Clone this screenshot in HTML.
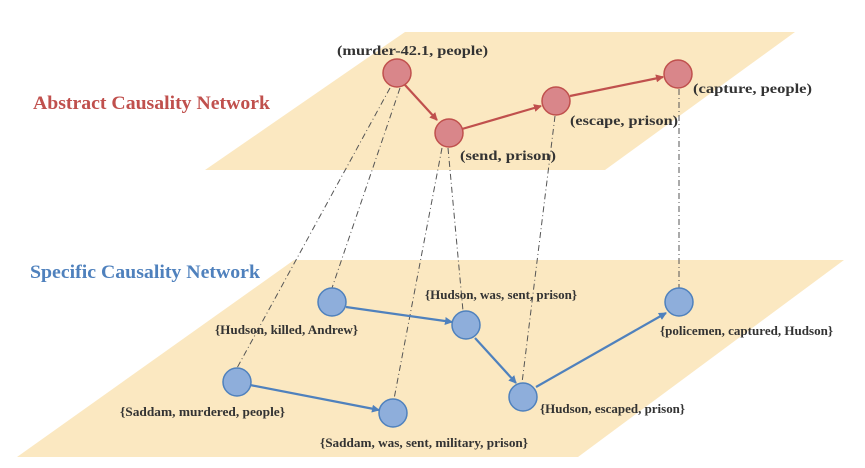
<!DOCTYPE html>
<html><head><style>
html,body{margin:0;padding:0;background:#fff;width:865px;height:468px;overflow:hidden}
svg text{font-family:"Liberation Serif",serif;font-weight:bold}
</style></head><body>
<svg width="865" height="468" viewBox="0 0 865 468" xmlns="http://www.w3.org/2000/svg">
<defs>
<marker id="ar" markerWidth="8" markerHeight="8" refX="7" refY="4" orient="auto" markerUnits="userSpaceOnUse"><path d="M0,0 L8,4 L0,8 z" fill="#c0504d"/></marker>
<marker id="ab" markerWidth="8" markerHeight="8" refX="7" refY="4" orient="auto" markerUnits="userSpaceOnUse"><path d="M0,0 L8,4 L0,8 z" fill="#4f81bd"/></marker>
</defs>
<polygon points="405,32 795,32 605,170 205,170" fill="#fbe8c1"/>
<polygon points="294,260 844,260 578,457 17,457" fill="#fbe8c1"/>
<g stroke="#555" stroke-width="1" stroke-dasharray="6,3,1,3" fill="none">
<line x1="390" y1="88" x2="237" y2="368"/>
<line x1="400" y1="88" x2="332" y2="288"/>
<line x1="448" y1="148" x2="463" y2="311"/>
<line x1="442" y1="148" x2="394" y2="399"/>
<line x1="555" y1="116" x2="522" y2="383"/>
<line x1="679" y1="89" x2="679" y2="288"/>
</g>
<g stroke="#c0504d" stroke-width="2.2" fill="none">
<line x1="405" y1="85" x2="437" y2="120" marker-end="url(#ar)"/>
<line x1="462" y1="129" x2="541" y2="106" marker-end="url(#ar)"/>
<line x1="570" y1="96" x2="663" y2="77" marker-end="url(#ar)"/>
</g>
<g stroke="#4f81bd" stroke-width="2.2" fill="none">
<line x1="346" y1="307" x2="452" y2="322" marker-end="url(#ab)"/>
<line x1="475" y1="338" x2="516" y2="383" marker-end="url(#ab)"/>
<line x1="536" y1="387" x2="666" y2="313" marker-end="url(#ab)"/>
<line x1="250" y1="385" x2="379" y2="410" marker-end="url(#ab)"/>
</g>
<g fill="#d9868a" stroke="#c0504d" stroke-width="1.5">
<circle cx="397" cy="73" r="14"/><circle cx="449" cy="133" r="14"/>
<circle cx="556" cy="101" r="14"/><circle cx="678" cy="74" r="14"/>
</g>
<g fill="#8eaedb" stroke="#4f81bd" stroke-width="1.5">
<circle cx="332" cy="302" r="14"/><circle cx="466" cy="325" r="14"/>
<circle cx="523" cy="397" r="14"/><circle cx="679" cy="302" r="14"/>
<circle cx="237" cy="382" r="14"/><circle cx="393" cy="413" r="14"/>
</g>
<text x="33" y="109" font-size="19" fill="#c0504d" textLength="237" lengthAdjust="spacingAndGlyphs">Abstract Causality Network</text>
<text x="30" y="278" font-size="19" fill="#4f81bd" textLength="230" lengthAdjust="spacingAndGlyphs">Specific Causality Network</text>
<g font-size="14" fill="#333">
<text x="337" y="55" textLength="151" lengthAdjust="spacingAndGlyphs">(murder-42.1, people)</text>
<text x="460" y="160" textLength="96" lengthAdjust="spacingAndGlyphs">(send, prison)</text>
<text x="570" y="125" textLength="108" lengthAdjust="spacingAndGlyphs">(escape, prison)</text>
<text x="693" y="93" textLength="119" lengthAdjust="spacingAndGlyphs">(capture, people)</text>
</g>
<g font-size="12.5" fill="#333">
<text x="215" y="334" textLength="143" lengthAdjust="spacingAndGlyphs">{Hudson, killed, Andrew}</text>
<text x="425" y="299" textLength="152" lengthAdjust="spacingAndGlyphs">{Hudson, was, sent, prison}</text>
<text x="660" y="335" textLength="173" lengthAdjust="spacingAndGlyphs">{policemen, captured, Hudson}</text>
<text x="540" y="413" textLength="145" lengthAdjust="spacingAndGlyphs">{Hudson, escaped, prison}</text>
<text x="120" y="416" textLength="165" lengthAdjust="spacingAndGlyphs">{Saddam, murdered, people}</text>
<text x="320" y="447" textLength="208" lengthAdjust="spacingAndGlyphs">{Saddam, was, sent, military, prison}</text>
</g>
</svg>
</body></html>
